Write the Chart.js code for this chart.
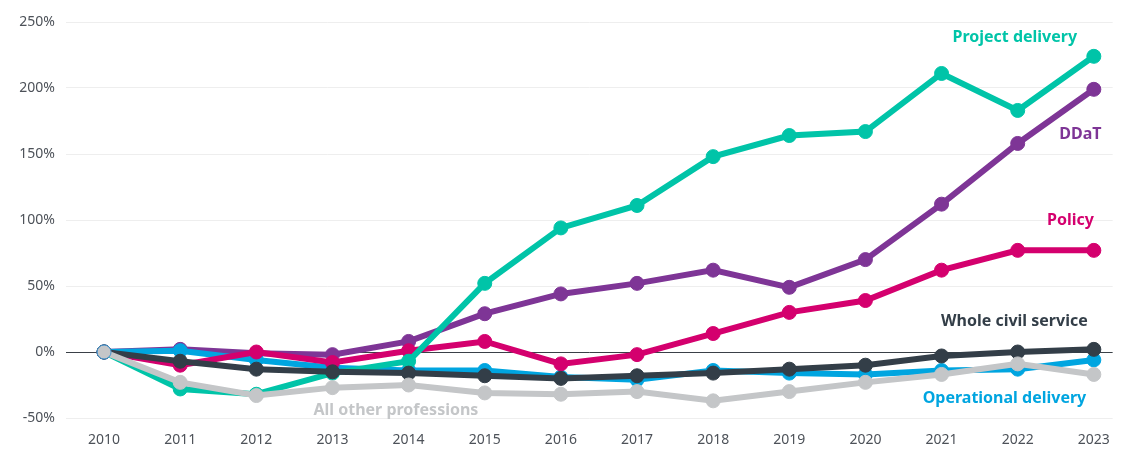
<!DOCTYPE html>
<html>
<head>
<meta charset="utf-8">
<script src="https://cdn.jsdelivr.net/npm/chart.js@4/dist/chart.umd.min.js"></script>
<style>
  html, body { margin: 0; padding: 0; background: #fff; }
  #wrap { width: 1124px; height: 450px; }
</style>
</head>
<body>
<div id="wrap"><canvas id="chart"></canvas></div>
<script>
const years = [2010, 2011, 2012, 2013, 2014, 2015, 2016, 2017, 2018, 2019, 2020, 2021, 2022, 2023];
const yTicks = [-50, 0, 50, 100, 150, 200, 250];

// % change since 2010
const projectDelivery = [0, -28, -32, -16, -7, 52, 94, 111, 148, 164, 167, 211, 183, 224];
const ddat = [0, 2, -1, -2, 8, 29, 44, 52, 62, 49, 70, 112, 158, 199];
const policy = [0, -10, 0, -8, 1, 8, -9, -2, 14, 30, 39, 62, 77, 77];
const wholeCivilService = [0, -7, -13, -15, -16, -18, -20, -18, -16, -13, -10, -3, 0, 2];
const operationalDelivery = [0, 1, -6, -12, -14, -14, -19, -21, -14, -16, -17, -14, -13, -6];
const allOther = [0, -23, -33, -27, -25, -31, -32, -30, -37, -30, -23, -17, -9, -17];

const seriesLabels = [
  { text: 'Project delivery', color: '#00c4a8', x: 2022.78, y: 238.5, align: 'right' },
  { text: 'DDaT', color: '#7e3596', x: 2023.1, y: 164.5, align: 'right' },
  { text: 'Policy', color: '#d4006e', x: 2023.0, y: 99.5, align: 'right' },
  { text: 'Whole civil service', color: '#333e48', x: 2022.92, y: 23, align: 'right' },
  { text: 'Operational delivery', color: '#00a5e0', x: 2022.9, y: -35.5, align: 'right' },
  { text: 'All other professions', color: '#c4c6c8', x: 2012.75, y: -44, align: 'left' }
];

const toPoints = vals => vals.map((v, i) => ({ x: years[i], y: v }));

function line(label, vals, color) {
  return {
    label: label,
    data: toPoints(vals),
    borderColor: color,
    backgroundColor: color,
    pointBackgroundColor: color,
    pointBorderColor: color,
    borderWidth: 6,
    pointRadius: 7,
    pointBorderWidth: 1,
    tension: 0,
    fill: false
  };
}

const labelPlugin = {
  id: 'seriesLabels',
  afterDatasetsDraw(chart) {
    const ctx = chart.ctx;
    const xs = chart.scales.x, ys = chart.scales.y;
    ctx.save();
    ctx.font = 'bold 16px "Noto Sans"';
    ctx.textBaseline = 'middle';
    seriesLabels.forEach(l => {
      ctx.fillStyle = l.color;
      ctx.textAlign = l.align;
      ctx.fillText(l.text, xs.getPixelForValue(l.x), ys.getPixelForValue(l.y));
    });
    ctx.restore();
  }
};

const grey = line('All other professions', allOther, '#c4c6c8');
grey.pointBorderColor = allOther.map((v, i) => i === 0 ? '#3d8fd0' : '#c4c6c8');

new Chart(document.getElementById('chart'), {
  type: 'line',
  data: {
    datasets: [
      grey,
      line('Whole civil service', wholeCivilService, '#333e48'),
      line('Project delivery', projectDelivery, '#00c4a8'),
      line('Policy', policy, '#d4006e'),
      line('Operational delivery', operationalDelivery, '#00a5e0'),
      line('DDaT', ddat, '#7e3596')
    ]
  },
  options: {
    responsive: true,
    maintainAspectRatio: false,
    animation: false,
    layout: { padding: { top: 22, right: 0, bottom: 0, left: 0 } },
    plugins: {
      legend: { display: false },
      tooltip: { enabled: false }
    },
    scales: {
      x: {
        type: 'linear',
        min: 2009.5,
        max: 2023.247,
        afterBuildTicks: scale => { scale.ticks = years.map(v => ({ value: v })); },
        afterFit: scale => { scale.height = 32; },
        grid: { display: false, drawTicks: false },
        border: { display: false },
        ticks: {
          color: '#4d5259',
          padding: 14,
          font: { family: '"Noto Sans"', size: 14 },
          callback: v => String(v),
          autoSkip: false,
          maxRotation: 0
        }
      },
      y: {
        min: -50,
        max: 250,
        afterBuildTicks: scale => { scale.ticks = yTicks.map(v => ({ value: v })); },
        afterFit: scale => { scale.width = 66; },
        grid: {
          drawTicks: false,
          color: c => c.tick && c.tick.value === 0 ? '#3a4047' : '#eeeeee',
          lineWidth: 1
        },
        border: { display: false },
        ticks: {
          color: '#4d5259',
          padding: 11,
          font: { family: '"Noto Sans"', size: 14 },
          callback: v => v + '%'
        }
      }
    }
  },
  plugins: [labelPlugin]
});
</script>
</body>
</html>
